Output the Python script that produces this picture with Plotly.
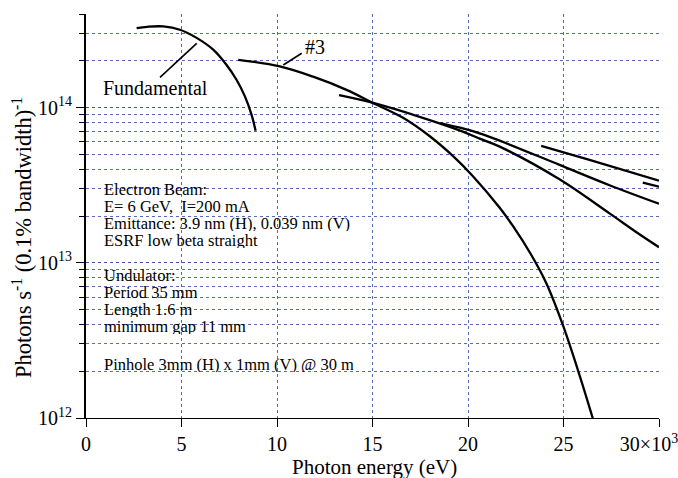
import plotly.graph_objects as go

# ---------------- data (photon energy in keV, flux in photons/s/0.1%bw) -------------
fund_E = [2.65, 3.2, 4.05, 4.92, 5.79, 6.66, 7.36, 7.88, 8.32, 8.67, 8.88]
fund_F = [3.25e14, 3.31e14, 3.33e14, 3.17e14, 2.81e14, 2.36e14, 1.88e14, 1.51e14, 1.18e14, 8.97e13, 7.08e13]

h3_E = [7.97, 10.15, 11.89, 13.64, 15.03, 16.6, 18.0, 19.22, 20.27, 21.66, 22.36, 23.3, 24.1, 24.97, 25.85, 26.55]
h3_F = [2.03e14, 1.84e14, 1.58e14, 1.30e14, 1.07e14, 8.59e13, 6.53e13, 4.86e13, 3.60e13, 2.26e13, 1.72e13,
        1.13e13, 7.38e12, 3.96e12, 1.87e12, 9.8e11]

h5_E = [13.25, 15.03, 17.47, 19.73, 20.61, 21.66, 24.79, 27.41, 28.8, 30.0]
h5_F = [1.20e14, 1.07e14, 8.71e13, 7.0e13, 6.31e13, 5.60e13, 3.45e13, 2.08e13, 1.58e13, 1.26e13]

h7_E = [18.55, 19.73, 20.61, 21.66, 24.79, 27.41, 30.0]
h7_F = [7.94e13, 7.33e13, 6.82e13, 6.12e13, 4.27e13, 3.16e13, 2.40e13]

h9_E = [23.83, 26.36, 30.0]
h9_F = [5.66e13, 4.60e13, 3.38e13]

h11_E = [29.15, 30.0]
h11_F = [3.28e13, 3.09e13]

x_ticks = [0, 5, 10, 15, 20, 25, 30]
x_ticktext = ["0", "5", "10", "15", "20", "25", "30×10<sup>3</sup>&nbsp;&nbsp;&nbsp;&nbsp;"]
y_ticks = [1e12, 1e13, 1e14]
y_ticktext = ["10<sup>12</sup>", "10<sup>13</sup>", "10<sup>14</sup>"]

info_beam = ["Electron Beam:", "E= 6 GeV,  I=200 mA",
             "Emittance: 3.9 nm (H), 0.039 nm (V)", "ESRF low beta straight"]
info_und = ["Undulator:", "Period 35 mm", "Length 1.6 m", "minimum gap 11 mm"]
info_pin = ["Pinhole 3mm (H) x 1mm (V) @ 30 m"]

# ---------------- layout geometry ----------------
W, H = 678, 478
L, R, T, B = 86, 19, 14, 60
PW, PH = W - L - R, H - T - B
FONT = "Liberation Serif"


def px(xp, yp):
    return (xp - L) / PW, (H - B - yp) / PH


fig = go.Figure()
for E, F in [(fund_E, fund_F), (h3_E, h3_F), (h5_E, h5_F), (h7_E, h7_F), (h9_E, h9_F), (h11_E, h11_F)]:
    fig.add_trace(go.Scatter(x=E, y=F, mode="lines",
                             line=dict(color="black", width=2.3, shape="spline", smoothing=1.0),
                             showlegend=False, hoverinfo="skip"))

grid = "rgba(60,80,170,0.85)"

shapes = []
# white panels behind the info text
for (x0, y0, x1, y1) in [(101, 176, 357, 254), (101, 266, 252, 334), (101, 354, 358, 377)]:
    a0, b0 = px(x0, y1)
    a1, b1 = px(x1, y0)
    shapes.append(dict(type="rect", xref="paper", yref="paper", x0=a0, y0=b0, x1=a1, y1=b1,
                       fillcolor="white", line=dict(width=0), layer="between"))
# leader lines
for (x0, y0, x1, y1) in [(160, 77.3, 196.7, 43.3), (283.3, 65, 301.7, 53.3)]:
    a0, b0 = px(x0, y0)
    a1, b1 = px(x1, y1)
    shapes.append(dict(type="line", xref="paper", yref="paper", x0=a0, y0=b0, x1=a1, y1=b1,
                       line=dict(color="black", width=1.6), layer="above"))

annotations = []
for txt, (xp, yp) in [("Fundamental", (155, 88)), ("#3", (315, 47))]:
    a, b = px(xp, yp)
    annotations.append(dict(x=a, y=b, xref="paper", yref="paper", text=txt, showarrow=False,
                            font=dict(family=FONT, size=20, color="black"),
                            xanchor="center", yanchor="middle"))
line_y = [189, 206, 223, 240, 275, 292, 309, 326, 364]
for txt, yp in zip(info_beam + info_und + info_pin, line_y):
    a, b = px(102.5, yp)
    annotations.append(dict(x=a, y=b, xref="paper", yref="paper", text=txt, showarrow=False,
                            xanchor="left", yanchor="middle", borderpad=0, height=16,
                            font=dict(family=FONT, size=16.5, color="black")))
# axis titles
a, b = px(374, 467)
annotations.append(dict(x=a, y=b, xref="paper", yref="paper", text="Photon energy (eV)",
                        showarrow=False, xanchor="center", yanchor="middle",
                        font=dict(family=FONT, size=21, color="black")))
a, b = px(22, 238)
annotations.append(dict(x=a, y=b, xref="paper", yref="paper",
                        text="Photons s<sup>-1</sup> (0.1% bandwidth)<sup>-1</sup>",
                        showarrow=False, textangle=-90, xanchor="center", yanchor="middle",
                        font=dict(family=FONT, size=22.5, color="black")))

fig.update_layout(
    width=W, height=H, margin=dict(l=L, r=R, t=T, b=B, pad=0, autoexpand=False),
    paper_bgcolor="white", plot_bgcolor="white",
    font=dict(family=FONT, size=20, color="black"),
    shapes=shapes, annotations=annotations,
    xaxis=dict(range=[0, 30], tickmode="array", tickvals=x_ticks, ticktext=x_ticktext,
               ticks="outside", ticklen=8, tickwidth=1, tickcolor="black", automargin=False,
               showline=True, linecolor="black", linewidth=1, ticklabeloverflow="allow",
               showgrid=True, gridcolor=grid, gridwidth=1, griddash="dot",
               zeroline=False, tickfont=dict(family=FONT, size=20, color="black")),
    yaxis=dict(type="log", range=[12, 14.6025], tickmode="array", tickvals=y_ticks, ticktext=y_ticktext,
               ticks="outside", ticklen=8, tickwidth=1, tickcolor="black", automargin=False,
               showline=True, linecolor="black", linewidth=2,
               showgrid=True, gridcolor=grid, gridwidth=1, griddash="dot",
               zeroline=False, tickfont=dict(family=FONT, size=20, color="black"),
               minor=dict(dtick="D1", ticks="outside", ticklen=5, tickcolor="black",
                          showgrid=True, gridcolor=grid, gridwidth=1, griddash="dot")),
)

fig.write_html("out.html", config={"displayModeBar": False},
               post_script="document.body.style.margin='0';")
